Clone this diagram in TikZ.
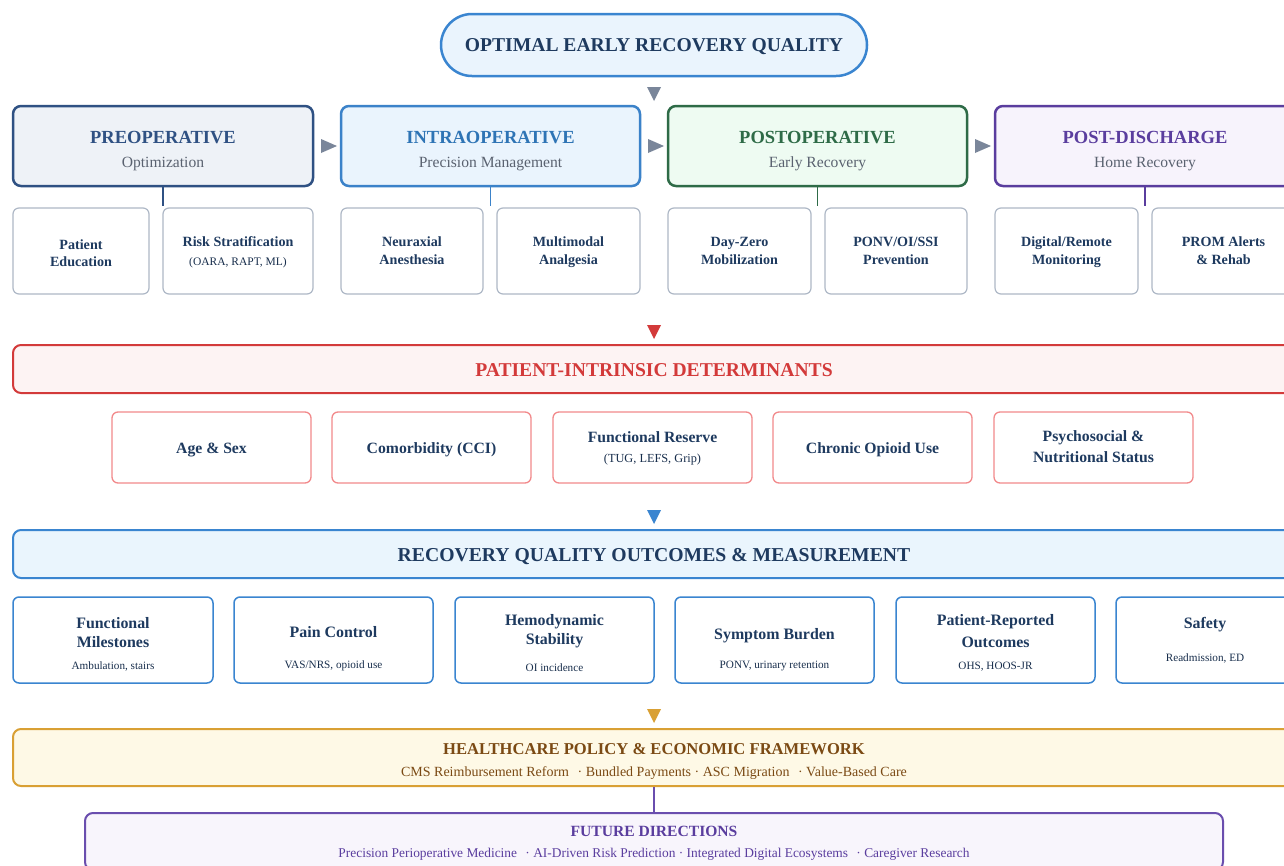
\documentclass[tikz,border=0pt]{standalone}
\usepackage{fontspec}
\setmainfont{Liberation Serif}
\definecolor{navy}{HTML}{1E3A5F}
\definecolor{arrgray}{HTML}{7A869A}
\definecolor{pillb}{HTML}{3A85D0}
\definecolor{pillf}{HTML}{EAF4FD}
\definecolor{preb}{HTML}{2F5183}
\definecolor{pref}{HTML}{EEF2F7}
\definecolor{intrab}{HTML}{3B82C9}
\definecolor{intrat}{HTML}{2E74B5}
\definecolor{intraf}{HTML}{EAF4FD}
\definecolor{postb}{HTML}{2E6B47}
\definecolor{postf}{HTML}{EEFBF2}
\definecolor{pdb}{HTML}{5A3D9E}
\definecolor{pdf}{HTML}{F7F3FC}
\definecolor{subgray}{HTML}{AEB8C6}
\definecolor{subtxt}{HTML}{5A6270}
\definecolor{redb}{HTML}{D33A3A}
\definecolor{redf}{HTML}{FDF3F3}
\definecolor{redl}{HTML}{F2898B}
\definecolor{blueb}{HTML}{3A85D0}
\definecolor{bluef}{HTML}{EAF5FD}
\definecolor{goldb}{HTML}{D9A034}
\definecolor{goldf}{HTML}{FEF9E6}
\definecolor{brown}{HTML}{7B4A14}
\definecolor{purb}{HTML}{6A4EAE}
\definecolor{purf}{HTML}{F8F5FC}
\definecolor{purt}{HTML}{5A3D9E}
\tikzset{
  pill/.style={draw=pillb, fill=pillf, line width=2.5pt, rounded corners=31pt, minimum width=426pt, minimum height=62pt, inner sep=0pt},
  phase/.style={line width=2.5pt, rounded corners=8pt, minimum height=80pt, inner sep=0pt},
  subb/.style={draw=subgray, line width=1.2pt, fill=white, rounded corners=6pt, minimum height=86pt, inner sep=0pt},
  hdr/.style={line width=2pt, rounded corners=8pt, minimum width=1282pt, minimum height=48pt, inner sep=0pt},
  detb/.style={draw=redl, line width=1.3pt, fill=white, rounded corners=6pt, minimum width=199pt, minimum height=71pt, inner sep=0pt},
  outb/.style={draw=blueb, line width=1.5pt, fill=white, rounded corners=6pt, minimum height=86pt, inner sep=0pt},
  txt/.style={anchor=base, inner sep=0pt},
  tphase/.style={txt, font=\fontsize{18.5}{20}\selectfont\bfseries},
  tphsub/.style={txt, text=subtxt, font=\fontsize{15.6}{18}\selectfont},
  tsub/.style={txt, text=navy, font=\fontsize{14.1}{16}\selectfont\bfseries},
  tsubs/.style={txt, text=navy!80!black, font=\fontsize{11.5}{13}\selectfont},
  tdet/.style={txt, text=navy, font=\fontsize{15.7}{18}\selectfont\bfseries},
  tdets/.style={txt, text=navy!80!black, font=\fontsize{12.3}{14}\selectfont},
  tout/.style={txt, text=navy, font=\fontsize{15.9}{18}\selectfont\bfseries},
  touts/.style={txt, text=navy!80!black, font=\fontsize{11.2}{13}\selectfont},
  conn/.style={line width=1.5pt},
}
\begin{document}
\begin{tikzpicture}[x=1pt,y=-1pt]
\useasboundingbox (0,0) rectangle (1284,865);
\clip (0,0) rectangle (1284,865);
\fill[white] (0,0) rectangle (1284,865);

% title
\node[pill] (title) at (654,45) {};
\node[txt, text=navy, font=\fontsize{19.6}{22}\selectfont\bfseries] (titlet) at (654,51) {OPTIMAL EARLY RECOVERY QUALITY};
\coordinate (tr0) at (654,94);
\fill[arrgray] (tr0) ++(-7,-7) -- ++(14,0) -- ++(-7,14) -- cycle;

% phases
\node[phase, draw=preb, fill=pref, minimum width=300pt] (pre) at (163,146) {};
\node[phase, draw=intrab, fill=intraf, minimum width=299pt] (intra) at (490.5,146) {};
\node[phase, draw=postb, fill=postf, minimum width=299pt] (post) at (817.5,146) {};
\node[phase, draw=pdb, fill=pdf, minimum width=300pt] (pd) at (1145,146) {};
\node[tphase, text=preb] (pret) at (163,143) {PREOPERATIVE};
\node[tphsub] (pres) at (163,167) {Optimization};
\node[tphase, text=intrat] (intrat) at (490.5,143) {INTRAOPERATIVE};
\node[tphsub] (intras) at (490.5,167) {Precision Management};
\node[tphase, text=postb] (postt) at (817.5,143) {POSTOPERATIVE};
\node[tphsub] (posts) at (817.5,167) {Early Recovery};
\node[tphase, text=pdb] (pdt) at (1145,143) {POST-DISCHARGE};
\node[tphsub] (pds) at (1145,167) {Home Recovery};

\coordinate (ra1) at (329,146);
\coordinate (ra2) at (656,146);
\coordinate (ra3) at (983,146);
\foreach \c in {ra1,ra2,ra3}{\fill[arrgray] (\c) ++(-8,-7) -- ++(16,7) -- ++(-16,7) -- cycle;}

% phase connectors
\coordinate (cpre) at (163,206);
\coordinate (cintra) at (490.5,206);
\coordinate (cpost) at (817.5,206);
\coordinate (cpd) at (1145,206);
\draw[conn, preb] (pre.south) -- (cpre);
\draw[conn, intrab] (intra.south) -- (cintra);
\draw[conn, postb] (post.south) -- (cpost);
\draw[conn, pdb] (pd.south) -- (cpd);

% sub boxes
\node[subb, minimum width=136pt] (s1) at (81,251) {};
\node[subb, minimum width=150pt] (s2) at (238,251) {};
\node[subb, minimum width=142pt] (s3) at (412,251) {};
\node[subb, minimum width=143pt] (s4) at (568.5,251) {};
\node[subb, minimum width=143pt] (s5) at (739.5,251) {};
\node[subb, minimum width=142pt] (s6) at (896,251) {};
\node[subb, minimum width=143pt] (s7) at (1066.5,251) {};
\node[subb, minimum width=143pt] (s8) at (1223.5,251) {};
\node[tsub] (s1a) at (81,249) {Patient};
\node[tsub] (s1b) at (81,266) {Education};
\node[tsub] (s2a) at (238,246) {Risk Stratification};
\node[tsubs] (s2b) at (238,265) {(OARA, RAPT, ML)};
\node[tsub] (s3a) at (412,246) {Neuraxial};
\node[tsub] (s3b) at (412,264) {Anesthesia};
\node[tsub] (s4a) at (568.5,246) {Multimodal};
\node[tsub] (s4b) at (568.5,264) {Analgesia};
\node[tsub] (s5a) at (739.5,246) {Day-Zero};
\node[tsub] (s5b) at (739.5,264) {Mobilization};
\node[tsub] (s6a) at (896,246) {PONV/OI/SSI};
\node[tsub] (s6b) at (896,264) {Prevention};
\node[tsub] (s7a) at (1066.5,246) {Digital/Remote};
\node[tsub] (s7b) at (1066.5,264) {Monitoring};
\node[tsub] (s8a) at (1223.5,246) {PROM Alerts};
\node[tsub] (s8b) at (1223.5,264) {\& Rehab};

% patient-intrinsic
\coordinate (tr1) at (654,332);
\fill[redb] (tr1) ++(-7,-7) -- ++(14,0) -- ++(-7,14) -- cycle;
\node[hdr, draw=redb, fill=redf] (pid) at (654,369) {};
\node[txt, text=redb, font=\fontsize{19.6}{22}\selectfont\bfseries] (pidt) at (654,376) {PATIENT-INTRINSIC DETERMINANTS};
\node[detb] (d1) at (211.5,447.5) {};
\node[detb] (d2) at (431.5,447.5) {};
\node[detb] (d3) at (652.5,447.5) {};
\node[detb] (d4) at (872.5,447.5) {};
\node[detb] (d5) at (1093.5,447.5) {};
\node[tdet] (d1a) at (211.5,453) {Age \& Sex};
\node[tdet] (d2a) at (431.5,453) {Comorbidity (CCI)};
\node[tdet] (d3a) at (652.5,442) {Functional Reserve};
\node[tdets] (d3b) at (652.5,462) {(TUG, LEFS, Grip)};
\node[tdet] (d4a) at (872.5,453) {Chronic Opioid Use};
\node[tdet] (d5a) at (1093.5,441) {Psychosocial \&};
\node[tdet] (d5b) at (1093.5,462) {Nutritional Status};

% outcomes
\coordinate (tr2) at (654,517);
\fill[blueb] (tr2) ++(-7,-7) -- ++(14,0) -- ++(-7,14) -- cycle;
\node[hdr, draw=blueb, fill=bluef] (rq) at (654,554) {};
\node[txt, text=navy, font=\fontsize{19.7}{22}\selectfont\bfseries] (rqt) at (654,561) {RECOVERY QUALITY OUTCOMES \& MEASUREMENT};
\node[outb, minimum width=200pt] (o1) at (113,640) {};
\node[outb, minimum width=199pt] (o2) at (333.5,640) {};
\node[outb, minimum width=199pt] (o3) at (554.5,640) {};
\node[outb, minimum width=199pt] (o4) at (774.5,640) {};
\node[outb, minimum width=199pt] (o5) at (995.5,640) {};
\node[outb, minimum width=180pt] (o6) at (1206,640) {};
\node[tout] (o1a) at (113,628) {Functional};
\node[tout] (o1b) at (113,647) {Milestones};
\node[touts] (o1c) at (113,669) {Ambulation, stairs};
\node[tout] (o2a) at (333.5,637) {Pain Control};
\node[touts] (o2c) at (333.5,668) {VAS/NRS, opioid use};
\node[tout] (o3a) at (554.5,625) {Hemodynamic};
\node[tout] (o3b) at (554.5,644) {Stability};
\node[touts] (o3c) at (554.5,671) {OI incidence};
\node[tout] (o4a) at (774.5,639) {Symptom Burden};
\node[touts] (o4c) at (774.5,668) {PONV, urinary retention};
\node[tout] (o5a) at (995.5,625) {Patient-Reported};
\node[tout] (o5b) at (995.5,647) {Outcomes};
\node[touts] (o5c) at (995.5,669) {OHS, HOOS-JR};
\node[tout] (o6a) at (1205,628) {Safety};
\node[touts] (o6c) at (1205,661) {Readmission, ED};

% policy
\coordinate (tr3) at (654,716);
\fill[goldb] (tr3) ++(-7,-7) -- ++(14,0) -- ++(-7,14) -- cycle;
\node[line width=2pt, draw=goldb, fill=goldf, rounded corners=8pt, minimum width=1282pt, minimum height=57pt, inner sep=0pt] (pol) at (654,757.5) {};
\node[txt, text=brown, font=\fontsize{16.6}{19}\selectfont\bfseries] (polt) at (654,754) {HEALTHCARE POLICY \& ECONOMIC FRAMEWORK};
\node[txt, text=brown, font=\fontsize{14}{16}\selectfont] (pols) at (654,776) {CMS Reimbursement Reform\hspace{5pt} · Bundled Payments · ASC Migration\hspace{5pt} · Value-Based Care};

% future
\node[line width=2pt, draw=purb, fill=purf, rounded corners=8pt, minimum width=1138pt, minimum height=57pt, inner sep=0pt] (fut) at (654,841.5) {};
\draw[conn, purb] (pol.south) -- (fut.north);
\node[txt, text=purt, font=\fontsize{15.6}{18}\selectfont\bfseries] (futt) at (654,836) {FUTURE DIRECTIONS};
\node[txt, text=purt, font=\fontsize{13.4}{15}\selectfont] (futs) at (654,857) {Precision Perioperative Medicine\hspace{5pt} · AI-Driven Risk Prediction · Integrated Digital Ecosystems\hspace{5pt} · Caregiver Research};
\end{tikzpicture}
\end{document}
